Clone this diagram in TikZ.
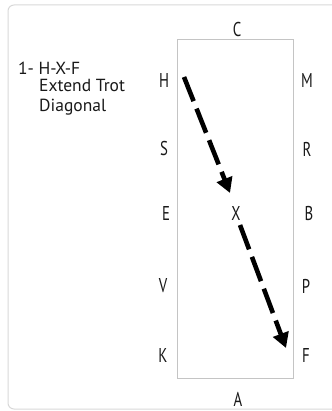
\documentclass[tikz,border=0pt]{standalone}
\usepackage{fontspec}
\setmainfont{PT Sans}
\usetikzlibrary{arrows.meta}
\definecolor{framec}{HTML}{D8D8D8}
\definecolor{arenac}{HTML}{C4C4C4}
\begin{document}
\begin{tikzpicture}[x=1pt,y=-1pt,
  lbl/.style={font=\fontsize{20}{20}\selectfont, xscale=0.74, inner sep=0pt, text=black!90},
  txt/.style={font=\fontsize{17.5}{17.5}\selectfont, inner sep=0pt, anchor=base west, text=black!90},
  movearrow/.style={line width=4.6pt, dash pattern=on 26pt off 8pt, -{Triangle[length=15pt,width=16pt]}}]
\useasboundingbox (0,0) rectangle (331,411);
\draw[framec, line width=1pt, rounded corners=6pt] (8,5) rectangle (350,409);
\draw[arenac, line width=1pt] (177,40) rectangle (293,378);
\node[txt] (t1) at (18,75) {1- H-X-F};
\node[txt] (t2) at (39,92) {Extend Trot};
\node[txt] (t3) at (39,112) {Diagonal};
\node[lbl] (C) at (237,30) {C};
\node[lbl] (H) at (164,81) {H};
\node[lbl] (M) at (307,81) {M};
\node[lbl] (S) at (164,149) {S};
\node[lbl] (R) at (307,149) {R};
\node[lbl] (E) at (166,213) {E};
\node[lbl] (X) at (236,213) {X};
\node[lbl] (B) at (309,213) {B};
\node[lbl] (V) at (163,286) {V};
\node[lbl] (P) at (306,286) {P};
\node[lbl] (K) at (163,355) {K};
\node[lbl] (F) at (306,355) {F};
\node[lbl] (A) at (238,399) {A};
\coordinate (a1s) at (184,77);
\coordinate (a1e) at (230,193);
\coordinate (a2s) at (240,225);
\coordinate (a2e) at (286,348);
\draw[movearrow] (a1s) -- (a1e);
\draw[movearrow] (a2s) -- (a2e);
\end{tikzpicture}
\end{document}
